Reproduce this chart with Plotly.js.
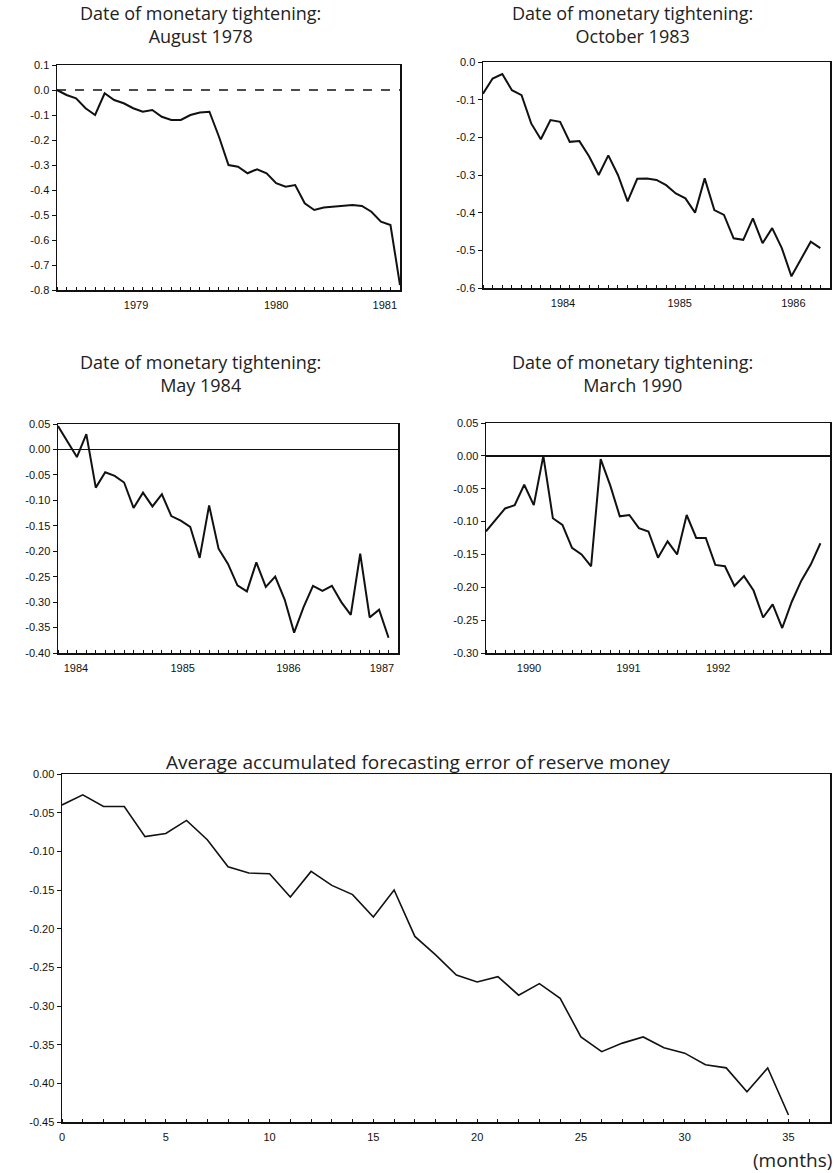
<!DOCTYPE html>
<html>
<head>
<meta charset="utf-8">
<script src="https://cdn.plot.ly/plotly-3.0.1.min.js"></script>
<style>
  html, body { margin: 0; padding: 0; background: #fff; }
  #chart { width: 837px; height: 1173px; }
</style>
</head>
<body>
<div id="chart"></div>
<script>
// ---------- DATA ----------
const titleLine1 = "Date of monetary tightening:";
const panelDates = ["August 1978", "October 1983", "May 1984", "March 1990"];
const bottomTitle = "Average accumulated forecasting error of reserve money";
const bottomXLabel = "(months)";

// Accumulated forecasting error, monthly, after tightening date
const aug1978 = [0.0, -0.02, -0.033, -0.073, -0.10, -0.013, -0.04, -0.053, -0.073, -0.087,
  -0.08, -0.107, -0.12, -0.12, -0.10, -0.09, -0.087, -0.187, -0.30, -0.307,
  -0.333, -0.317, -0.333, -0.373, -0.387, -0.38, -0.453, -0.48, -0.47, -0.467,
  -0.464, -0.46, -0.464, -0.487, -0.527, -0.54, -0.78];
const oct1983 = [-0.084, -0.044, -0.032, -0.075, -0.088, -0.163, -0.205, -0.154, -0.159, -0.212,
  -0.21, -0.25, -0.30, -0.248, -0.30, -0.37, -0.31, -0.309, -0.313, -0.327,
  -0.349, -0.362, -0.40, -0.309, -0.393, -0.406, -0.468, -0.472, -0.415, -0.481,
  -0.441, -0.494, -0.569, -0.521, -0.477, -0.494];
const may1984 = [0.046, 0.015, -0.015, 0.03, -0.075, -0.045, -0.052, -0.065, -0.115, -0.085,
  -0.112, -0.088, -0.131, -0.140, -0.152, -0.213, -0.110, -0.195, -0.225, -0.267,
  -0.279, -0.222, -0.270, -0.250, -0.295, -0.36, -0.31, -0.268, -0.278, -0.268,
  -0.300, -0.325, -0.205, -0.33, -0.315, -0.37];
const mar1990 = [-0.115, -0.098, -0.080, -0.075, -0.044, -0.075, 0.00, -0.095, -0.105, -0.140,
  -0.150, -0.168, -0.005, -0.045, -0.092, -0.090, -0.11, -0.115, -0.155, -0.13,
  -0.150, -0.09, -0.125, -0.125, -0.166, -0.168, -0.198, -0.183, -0.205, -0.246,
  -0.226, -0.262, -0.222, -0.190, -0.165, -0.133];
const average = [-0.040, -0.027, -0.042, -0.042, -0.081, -0.077, -0.060, -0.085, -0.120, -0.128,
  -0.129, -0.159, -0.126, -0.144, -0.156, -0.185, -0.150, -0.210, -0.234, -0.260,
  -0.269, -0.262, -0.286, -0.271, -0.290, -0.340, -0.359, -0.348, -0.340, -0.354,
  -0.361, -0.376, -0.380, -0.411, -0.380, -0.441];

// tick labels
const yearTicks1 = ["1979", "1980", "1981"];
const yearTicks2 = ["1984", "1985", "1986"];
const yearTicks3 = ["1984", "1985", "1986", "1987"];
const yearTicks4 = ["1990", "1991", "1992"];
const yTicks1 = ["0.1", "0.0", "-0.1", "-0.2", "-0.3", "-0.4", "-0.5", "-0.6", "-0.7", "-0.8"];
const yTicks2 = ["0.0", "-0.1", "-0.2", "-0.3", "-0.4", "-0.5", "-0.6"];
const yTicks3 = ["0.05", "0.00", "-0.05", "-0.10", "-0.15", "-0.20", "-0.25", "-0.30", "-0.35", "-0.40"];
const yTicks4 = ["0.05", "0.00", "-0.05", "-0.10", "-0.15", "-0.20", "-0.25", "-0.30"];
const yTicks5 = ["0.00", "-0.05", "-0.10", "-0.15", "-0.20", "-0.25", "-0.30", "-0.35", "-0.40", "-0.45"];
const monthTicks = ["0", "5", "10", "15", "20", "25", "30", "35"];

// ---------- LAYOUT HELPERS ----------
const W = 837, H = 1173;
const dx = (a, b) => [a / W, b / W];
const dy = (top, bottom) => [1 - bottom / H, 1 - top / H];
const idx = arr => arr.map((_, i) => i);

const tickFont = { family: "Liberation Sans, Arial, sans-serif", size: 11, color: "#111" };
const titleFont = { family: "'Open Sans', Lato, sans-serif", size: 18, color: "#222" };

function xAxis(domain, anchor, range, tickvals, ticktext) {
  return {
    domain: domain, anchor: anchor, range: range,
    tickmode: "array", tickvals: tickvals, ticktext: ticktext,
    ticks: "", showgrid: false, zeroline: false,
    showline: true, linecolor: "#111", linewidth: 1.5, mirror: true,
    tickfont: tickFont, ticklabelstandoff: 4,
    minor: { dtick: 1, tick0: 0, ticks: "inside", ticklen: 3, tickcolor: "#111", showgrid: false }
  };
}
function yAxis(domain, anchor, range, ticktext, zl) {
  const vals = ticktext.map(Number);
  return {
    domain: domain, anchor: anchor, range: range,
    tickmode: "array", tickvals: vals, ticktext: ticktext,
    ticks: "outside", ticklen: 4, tickcolor: "#111",
    showgrid: false, zeroline: zl, zerolinecolor: "#111", zerolinewidth: 1.5,
    showline: true, linecolor: "#111", linewidth: 1.5, mirror: true,
    tickfont: tickFont
  };
}
function label(text, px, py, xanchor, font) {
  return { text: text, x: px / W, y: 1 - py / H, xref: "paper", yref: "paper",
    xanchor: xanchor || "center", yanchor: "middle", align: "center",
    showarrow: false, font: font || titleFont };
}

const lineStyle = { color: "#111", width: 2 };

const traces = [
  { x: idx(aug1978), y: aug1978, xaxis: "x", yaxis: "y", mode: "lines", line: lineStyle, hoverinfo: "none" },
  { x: idx(oct1983), y: oct1983, xaxis: "x2", yaxis: "y2", mode: "lines", line: lineStyle, hoverinfo: "none" },
  { x: idx(may1984), y: may1984, xaxis: "x3", yaxis: "y3", mode: "lines", line: lineStyle, hoverinfo: "none" },
  { x: idx(mar1990), y: mar1990, xaxis: "x4", yaxis: "y4", mode: "lines", line: lineStyle, hoverinfo: "none" },
  { x: idx(average), y: average, xaxis: "x5", yaxis: "y5", mode: "lines", line: { color: "#111", width: 1.6 }, hoverinfo: "none" }
];

const bigFont = Object.assign({}, titleFont, { size: 19 });

const layout = {
  width: W, height: H,
  margin: { l: 0, r: 0, t: 0, b: 0 },
  paper_bgcolor: "#fff", plot_bgcolor: "#fff",
  showlegend: false,
  xaxis: xAxis(dx(57, 400), "y", [0, 36], [8.3, 23.0, 34.4], yearTicks1),
  yaxis: yAxis(dy(65, 290), "x", [-0.8, 0.1], yTicks1, false),
  xaxis2: xAxis(dx(483, 830), "y2", [0, 36], [8.3, 20.4, 32.2], yearTicks2),
  yaxis2: yAxis(dy(62, 288), "x2", [-0.6, 0.0], yTicks2, false),
  xaxis3: xAxis(dx(58, 398), "y3", [0, 36], [1.9, 13.2, 24.4, 34.3], yearTicks3),
  yaxis3: yAxis(dy(424, 653), "x3", [-0.40, 0.05], yTicks3, true),
  xaxis4: xAxis(dx(486, 830), "y4", [0, 36], [4.5, 14.9, 24.3], yearTicks4),
  yaxis4: yAxis(dy(423, 653), "x4", [-0.30, 0.05], yTicks4, true),
  xaxis5: xAxis(dx(62, 830), "y5", [0, 37], monthTicks.map(Number), monthTicks),
  yaxis5: yAxis(dy(774, 1122), "x5", [-0.45, 0.0], yTicks5, false),
  shapes: [
    { type: "line", xref: "x domain", yref: "y", x0: 0, x1: 1, y0: 0, y1: 0,
      line: { color: "#111", width: 1.5, dash: "dash" } }
  ],
  annotations: [
    label(titleLine1 + "<br>" + panelDates[0], 200, 24),
    label(titleLine1 + "<br>" + panelDates[1], 632, 24),
    label(titleLine1 + "<br>" + panelDates[2], 200, 373),
    label(titleLine1 + "<br>" + panelDates[3], 632, 373),
    label(bottomTitle, 418, 762, "center", bigFont),
    label(bottomXLabel, 834, 1160, "right", bigFont)
  ]
};

Plotly.newPlot("chart", traces, layout, { staticPlot: true, displayModeBar: false });
</script>
</body>
</html>
